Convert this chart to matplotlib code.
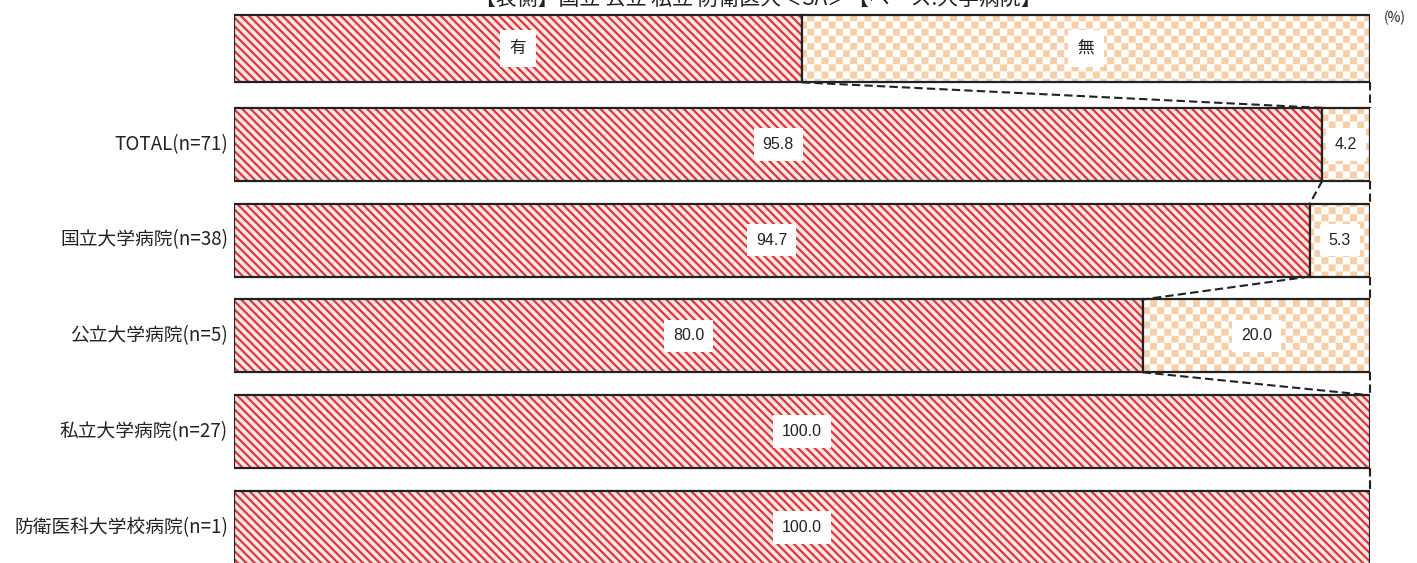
import numpy as np
import matplotlib
matplotlib.use("Agg")
import matplotlib.pyplot as plt
import matplotlib.hatch as mhatch
from matplotlib.path import Path

plt.rcParams['font.family'] = ['Noto Sans CJK JP', 'DejaVu Sans']
plt.rcParams['hatch.linewidth'] = 1.6

# ---------------- data ----------------
categories = ['TOTAL(n=71)', '国立大学病院(n=38)', '公立大学病院(n=5)',
              '私立大学病院(n=27)', '防衛医科大学校病院(n=1)']
yes_values = [95.8, 94.7, 80.0, 100.0, 100.0]
no_values = [4.2, 5.3, 20.0, 0.0, 0.0]
legend_labels = ['有', '無']
legend_shares = [50.0, 50.0]
title = '【表側】国立 公立 私立 防衛医大＜SA＞【ベース:大学病院】'


# ------------- checkerboard hatch (replaces the '*' pattern) -------------
class CheckerHatch(mhatch.HatchPatternBase):
    def __init__(self, hatch, density):
        self.n = 14 * hatch.count('*')
        self.cells = [(i, j) for i in range(self.n) for j in range(self.n)
                      if (i + j) % 2 == 0]
        self.num_vertices = 5 * len(self.cells)

    def set_vertices_and_codes(self, vertices, codes):
        s = 1.0 / self.n
        h = s * 0.33
        k = 0
        for i, j in self.cells:
            cx, cy = (i + 0.5) * s, (j + 0.5) * s
            vertices[k:k + 5] = [(cx - h, cy - h), (cx + h, cy - h),
                                 (cx + h, cy + h), (cx - h, cy + h),
                                 (cx - h, cy - h)]
            codes[k:k + 5] = [Path.MOVETO, Path.LINETO, Path.LINETO,
                              Path.LINETO, Path.CLOSEPOLY]
            k += 5


mhatch._hatch_types = [t for t in mhatch._hatch_types
                       if t is not mhatch.Stars] + [CheckerHatch]

# ---------------- styles ----------------
W, H = 1417, 563
fig = plt.figure(figsize=(W / 100, H / 100), dpi=100)
left_px, right_px = 234, 1370
ax = fig.add_axes([left_px / W, 0, (right_px - left_px) / W, 1])
row0_px, step_px = 48.5, 95.8
ax.set_xlim(0, 100)
ax.set_ylim((H - row0_px) / step_px, -row0_px / step_px)
ax.axis('off')

bar_h = 0.76
seg_styles = [
    dict(face='#fde9e2', hatchcol='#e1343f', hatch='\\\\\\\\'),
    dict(face='white', hatchcol='#f9cda6', hatch='*'),
]

rows = [legend_shares] + [[y, n] for y, n in zip(yes_values, no_values)]
row_texts = [legend_labels] + [[f'{y:.1f}', f'{n:.1f}']
                               for y, n in zip(yes_values, no_values)]


def draw_seg(ypos, left, width, style, height):
    ax.barh(ypos, width, left=left, height=height, color=style['face'],
            edgecolor=style['hatchcol'], hatch=style['hatch'], linewidth=0)
    ax.barh(ypos, width, left=left, height=height, color='none',
            edgecolor='#222222', linewidth=1.6)


for k, (vals, texts) in enumerate(zip(rows, row_texts)):
    h = bar_h * (0.93 if k == 0 else 1.0)
    left = 0.0
    for v, t, st in zip(vals, texts, seg_styles):
        if v > 0:
            draw_seg(k, left, v, st, h)
            if k == 0:
                ax.text(left + v / 2, k, t, ha='center', va='center',
                        fontsize=12, color='#222222',
                        bbox=dict(boxstyle='square,pad=0.6', fc='white',
                                  ec='none'))
            else:
                ax.text(left + v / 2, k, t, ha='center', va='center',
                        fontsize=11.5, color='#222222',
                        family=['Liberation Sans', 'DejaVu Sans'],
                        bbox=dict(boxstyle='square,pad=0.55', fc='white',
                                  ec='none'))
        left += v

# connector lines
bounds = [r[0] for r in rows]
heights = [bar_h * (0.93 if k == 0 else 1.0) for k in range(len(rows))]
for k in range(len(rows) - 1):
    y1 = k + heights[k] / 2
    y2 = k + 1 - heights[k + 1] / 2
    ax.plot([bounds[k], bounds[k + 1]], [y1, y2], color='#222222',
            lw=1.5, ls=(0, (4, 2)), clip_on=False)
    ax.plot([100, 100], [y1, y2], color='#222222', lw=1.5,
            ls=(0, (4, 2)), clip_on=False)

# category labels
for k, c in enumerate(categories, start=1):
    fig.text(228 / W, 1 - (row0_px + k * step_px) / H, c, ha='right',
             va='center', fontsize=13.5, color='#222222')

fig.text(1395 / W, 1 - 18 / H, '(%)', ha='center', va='center',
         fontsize=10, color='#222222')
fig.text(758 / W, 1 - 10 / H, title, ha='center', va='bottom',
         fontsize=15, color='#222222')

fig.savefig('out.png', dpi=100)
